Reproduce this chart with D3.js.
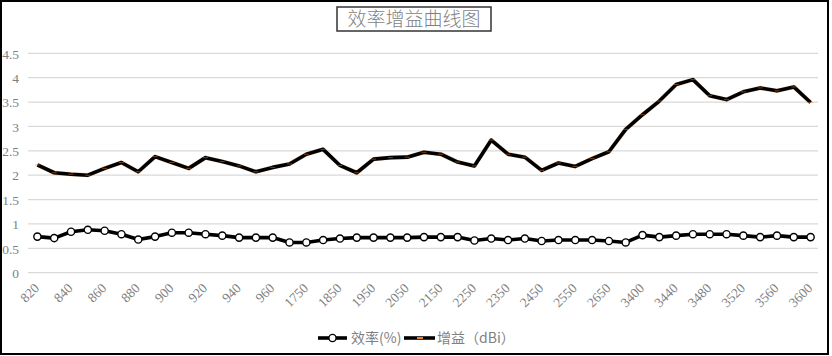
<!DOCTYPE html>
<html><head><meta charset="utf-8">
<script src="https://cdn.jsdelivr.net/npm/d3@7"></script>
<style>
html,body{margin:0;padding:0;background:#fff;}
svg{display:block;}
</style></head>
<body><svg id="c" width="832" height="356"></svg>
<script>
const categories = ["820","830","840","850","860","870","880","890","900","910","920","930","940","950","960","1710",
"1750","1800","1850","1900","1950","2000","2050","2100","2150","2200","2250","2300","2350","2400","2450","2500","2550","2600","2650","2690",
"3400","3420","3440","3460","3480","3500","3520","3540","3560","3580","3600"];
const efficiency = [0.74,0.71,0.84,0.88,0.86,0.79,0.68,0.74,0.82,0.82,0.79,0.76,0.72,0.72,0.72,0.62,
0.62,0.67,0.70,0.72,0.72,0.72,0.72,0.73,0.73,0.73,0.66,0.70,0.67,0.70,0.65,0.67,0.67,0.67,0.65,0.62,
0.77,0.73,0.76,0.79,0.79,0.79,0.76,0.73,0.76,0.73,0.73];
const gain = [2.21,2.05,2.02,2.00,2.14,2.26,2.07,2.38,2.26,2.14,2.36,2.28,2.19,2.07,2.16,2.23,
2.43,2.53,2.20,2.05,2.33,2.36,2.37,2.47,2.43,2.27,2.19,2.72,2.43,2.37,2.10,2.25,2.18,2.34,2.48,2.94,
3.24,3.52,3.86,3.96,3.63,3.55,3.71,3.79,3.73,3.81,3.49];
const yTicks = [0,0.5,1,1.5,2,2.5,3,3.5,4,4.5];
const title = "效率增益曲线图";
const seriesNames = ["效率(%)","增益（dBi）"];

const svg = d3.select("#c");
const numFont = "'Liberation Serif','DejaVu Serif',serif";
const cjkFont = "'Noto Sans CJK SC','Noto Sans',sans-serif";
const gray = "#7f7f7f";

// outer border
svg.append("rect").attr("x",1).attr("y",1).attr("width",827).attr("height",353)
  .attr("fill","#fff").attr("stroke","#000").attr("stroke-width",2);

const x = d3.scalePoint().domain(categories).range([29,819]).padding(0.5);
const y = d3.scaleLinear().domain([0,4.5]).range([272.7,53.3]);

// gridlines
svg.append("g").selectAll("line").data(yTicks).join("line")
  .attr("x1",28).attr("x2",818)
  .attr("y1",d=>y(d)).attr("y2",d=>y(d))
  .attr("stroke","#d9d9d9").attr("stroke-width",1.2);

// y axis
const yAxis = svg.append("g").attr("transform","translate(19,0)")
  .call(d3.axisLeft(y).tickValues(yTicks).tickSize(0).tickPadding(0).tickFormat(d=>String(d)));
yAxis.select(".domain").remove();
yAxis.selectAll("text").attr("fill",gray).attr("font-family",numFont).attr("font-size",13.5).attr("dy","0.35em");

// x axis
const xAxis = svg.append("g").attr("transform","translate(0,284)")
  .call(d3.axisBottom(x).tickValues(categories.filter((d,i)=>i%2===0)).tickSize(0).tickPadding(0));
xAxis.select(".domain").remove();
xAxis.selectAll("text").attr("fill",gray).attr("font-family",numFont).attr("font-size",13.5)
  .attr("text-anchor","end").attr("dy","0").attr("transform","rotate(-45)")
  .attr("x",-2).attr("y",5);

// gain line
const lineG = d3.line().x((d,i)=>x(categories[i])).y(d=>y(d));
svg.append("path").datum(gain).attr("d",lineG).attr("fill","none")
  .attr("stroke","#e0b48e").attr("stroke-width",4.3).attr("stroke-linejoin","round").attr("opacity",0.6);
svg.append("path").datum(gain).attr("d",lineG).attr("fill","none")
  .attr("stroke","#000").attr("stroke-width",3.6).attr("stroke-linejoin","round");
svg.append("g").selectAll("rect").data(gain).join("rect")
  .attr("x",(d,i)=>x(categories[i])-2.5).attr("y",d=>y(d)-0.5)
  .attr("width",5).attr("height",1).attr("fill","#ed7d31").attr("opacity",0.5);

// efficiency line
svg.append("path").datum(efficiency).attr("d",lineG).attr("fill","none")
  .attr("stroke","#000").attr("stroke-width",3.6).attr("stroke-linejoin","round");
svg.append("g").selectAll("circle").data(efficiency).join("circle")
  .attr("cx",(d,i)=>x(categories[i])).attr("cy",d=>y(d)).attr("r",3.6)
  .attr("fill","#fff").attr("stroke","#000").attr("stroke-width",1.4);

// title
svg.append("rect").attr("x",337).attr("y",7).attr("width",154).attr("height",24)
  .attr("fill","#fff").attr("stroke","#333").attr("stroke-width",1.5);
svg.append("text").attr("x",414).attr("y",19).attr("dy","0.36em").attr("text-anchor","middle")
  .attr("font-family",cjkFont).attr("font-size",19).attr("font-weight",300).attr("fill","#7f7f7f").text(title);

// legend
const ly = 338;
const lg = svg.append("g");
lg.append("line").attr("x1",318).attr("x2",347).attr("y1",ly).attr("y2",ly).attr("stroke","#000").attr("stroke-width",3.6);
lg.append("circle").attr("cx",332.5).attr("cy",ly).attr("r",3.6).attr("fill","#fff").attr("stroke","#000").attr("stroke-width",1.4);
lg.append("text").attr("x",351).attr("y",ly).attr("dy","0.36em").attr("font-family",cjkFont)
  .attr("font-size",14).attr("fill","#7f7f7f").text(seriesNames[0]);
lg.append("line").attr("x1",404).attr("x2",435).attr("y1",ly).attr("y2",ly).attr("stroke","#000").attr("stroke-width",3.6);
lg.append("rect").attr("x",417).attr("y",ly-1).attr("width",6).attr("height",2).attr("fill","#ed7d31");
lg.append("text").attr("x",437).attr("y",ly).attr("dy","0.36em").attr("font-family",cjkFont)
  .attr("font-size",14).attr("fill","#7f7f7f").text(seriesNames[1]);
</script></body></html>
